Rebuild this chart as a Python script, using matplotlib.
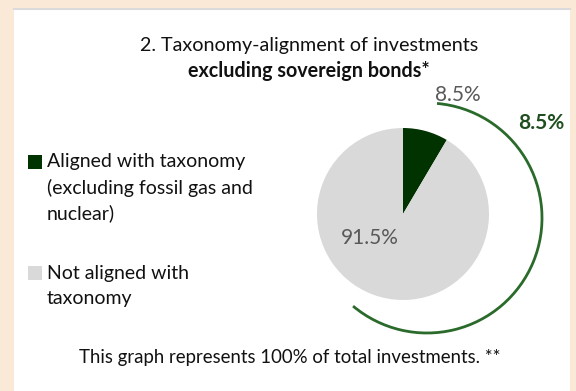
import matplotlib.pyplot as plt
from matplotlib.patches import Rectangle, Arc

plt.rcParams['font.family'] = ['Lato', 'DejaVu Sans']

# data
labels = [['Aligned with taxonomy', '(excluding fossil gas and', 'nuclear)'],
          ['Not aligned with', 'taxonomy']]
values = [8.5, 91.5]
colors = ['#013301', '#D9D9D9']
title_1 = '2. Taxonomy-alignment of investments'
title_2 = 'excluding sovereign bonds*'
footer = 'This graph represents 100% of total investments. **'

W, H = 576, 391
fig = plt.figure(figsize=(W / 100, H / 100), dpi=100)
fig.patch.set_facecolor('#FBE9D8')
ax = fig.add_axes([0, 0, 1, 1])

# white panel
ax.add_patch(Rectangle((14, 0), 556, H - 9, facecolor='white', edgecolor='none', zorder=0))
ax.plot([14, 570], [H - 9, H - 9], color='#DADADA', lw=1.5, zorder=1)

# pie
cx, cy, r = 403, H - 214, 86
ax.pie(values, colors=colors, startangle=90, counterclock=False,
       center=(cx, cy), radius=r, frame=True,
       wedgeprops=dict(linewidth=0))
ax.set_xlim(0, W)
ax.set_ylim(0, H)
ax.set_aspect('auto')
ax.axis('off')

# outer arc highlighting the aligned share
ax.add_patch(Arc((427, H - 218), 230, 230, theta1=-130, theta2=85,
                 color='#2A6A2A', lw=2))

ax.text(370, H - 238, f'{values[1]}%', fontsize=15, color='#595959',
        ha='center', va='center')
ax.text(458, H - 95, f'{values[0]}%', fontsize=15, color='#595959',
        ha='center', va='center')
ax.text(541, H - 123, f'{values[0]}%', fontsize=15, color='#1F4E1F',
        fontweight='bold', ha='center', va='center')

# titles
ax.text(309, H - 45, title_1, fontsize=14.2, ha='center', va='center', color='#111111')
ax.text(309, H - 71, title_2, fontsize=14.2, ha='center', va='center',
        fontweight='bold', color='#111111')
ax.text(290, H - 358, footer, fontsize=13.4, ha='center', va='center', color='#111111')

# legend
leg_y = [H - 162, H - 273]
for lines, col, y in zip(labels, colors, leg_y):
    ax.add_patch(Rectangle((28, y - 7), 14, 14, facecolor=col, edgecolor='none'))
    for i, line in enumerate(lines):
        ax.text(47, y - i * 25.5, line, fontsize=14, ha='left', va='center',
                color='#111111')

fig.savefig('out.png', dpi=100, facecolor=fig.get_facecolor())
